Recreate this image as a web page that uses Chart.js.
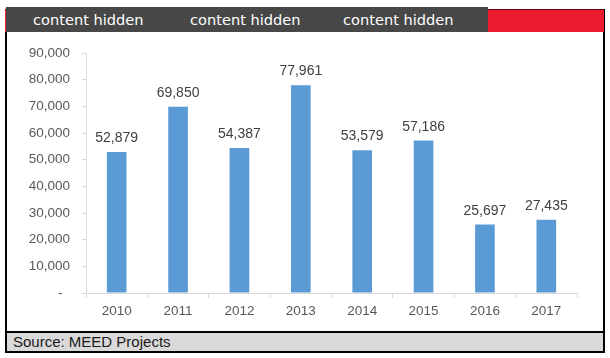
<!DOCTYPE html>
<html>
<head>
<meta charset="utf-8">
<script src="https://cdn.jsdelivr.net/npm/chart.js@4"></script>
<style>
  html, body { margin: 0; padding: 0; background: #ffffff; width: 610px; height: 358px; overflow: hidden; }
  .frame { position: absolute; left: 5px; top: 9px; width: 596px; height: 340px; border: 2px solid #000; }
  .redbar { position: absolute; left: 5px; top: 9px; width: 599px; height: 23px; background: #ec1b2e; border-top: 1px solid #5a0a10; box-sizing: border-box; }
  .darkbox { position: absolute; left: 6px; top: 7px; width: 482px; height: 25px; background: #474747; }
  .hdr { position: absolute; top: 7px; height: 25px; line-height: 25px; color: #ffffff; font-family: "DejaVu Sans", sans-serif; font-size: 14.6px; white-space: nowrap; }
  .source { position: absolute; left: 7px; top: 331px; width: 596px; height: 18px; background: #d9d9d9; border-top: 2px solid #000; }
  .source span { position: absolute; left: 6px; top: -1px; line-height: 20px; font-family: "Liberation Sans", Arial, sans-serif; font-size: 15px; color: #1a1a1a; white-space: nowrap; }
  .chartbox { position: absolute; left: 6px; top: 33px; width: 597px; height: 298px; }
</style>
</head>
<body>
<div class="frame"></div>
<div class="redbar"></div>
<div class="darkbox"></div>
<div class="hdr" style="left:33px">content hidden</div>
<div class="hdr" style="left:190px">content hidden</div>
<div class="hdr" style="left:343px">content hidden</div>
<div class="chartbox"><canvas id="c" width="597" height="298"></canvas></div>
<div class="source"><span>Source: MEED Projects</span></div>
<script>
const categories = ["2010", "2011", "2012", "2013", "2014", "2015", "2016", "2017"];
const projectValues = [52879, 69850, 54387, 77961, 53579, 57186, 25697, 27435];
const yTickValues = [0, 10000, 20000, 30000, 40000, 50000, 60000, 70000, 80000, 90000];

const fmt = v => v.toLocaleString('en-US');

const valueLabels = {
  id: 'valueLabels',
  afterDatasetsDraw(chart) {
    const ctx = chart.ctx;
    const meta = chart.getDatasetMeta(0);
    ctx.save();
    ctx.font = '14px "Liberation Sans", Arial, sans-serif';
    ctx.fillStyle = '#404040';
    ctx.textAlign = 'center';
    ctx.textBaseline = 'alphabetic';
    meta.data.forEach((bar, i) => {
      ctx.fillText(fmt(chart.data.datasets[0].data[i]), bar.x, bar.y - 10);
    });
    ctx.restore();
  }
};

new Chart(document.getElementById('c'), {
  type: 'bar',
  data: {
    labels: categories,
    datasets: [{
      data: projectValues,
      backgroundColor: '#5b9bd5',
      borderWidth: 0,
      barPercentage: 0.32,
      categoryPercentage: 1.0
    }]
  },
  options: {
    responsive: false,
    animation: false,
    events: [],
    layout: { padding: { left: 0, right: 26, top: 18, bottom: 0 } },
    plugins: { legend: { display: false }, tooltip: { enabled: false } },
    scales: {
      x: {
        offset: true,
        grid: { display: true, drawOnChartArea: false, drawTicks: true, tickLength: 5, color: '#d9d9d9', offset: true },
        border: { display: true, color: '#d9d9d9', width: 1 },
        ticks: { color: '#595959', font: { family: '"Liberation Sans", Arial, sans-serif', size: 13.5 }, padding: 5, maxRotation: 0 },
        afterFit(scale) { scale.height = 38; }
      },
      y: {
        min: 0,
        max: 90000,
        afterBuildTicks(scale) { scale.ticks = yTickValues.map(v => ({ value: v })); },
        grid: { display: true, drawOnChartArea: false, drawTicks: true, tickLength: 4, color: '#d9d9d9' },
        border: { display: true, color: '#d9d9d9', width: 1 },
        ticks: {
          color: '#595959',
          font: { family: '"Liberation Sans", Arial, sans-serif', size: 13.5 },
          padding: 12,
          callback: v => v === 0 ? '-  ' : fmt(v)
        },
        afterFit(scale) { scale.width = 80; }
      }
    }
  },
  plugins: [valueLabels]
});
</script>
</body>
</html>
